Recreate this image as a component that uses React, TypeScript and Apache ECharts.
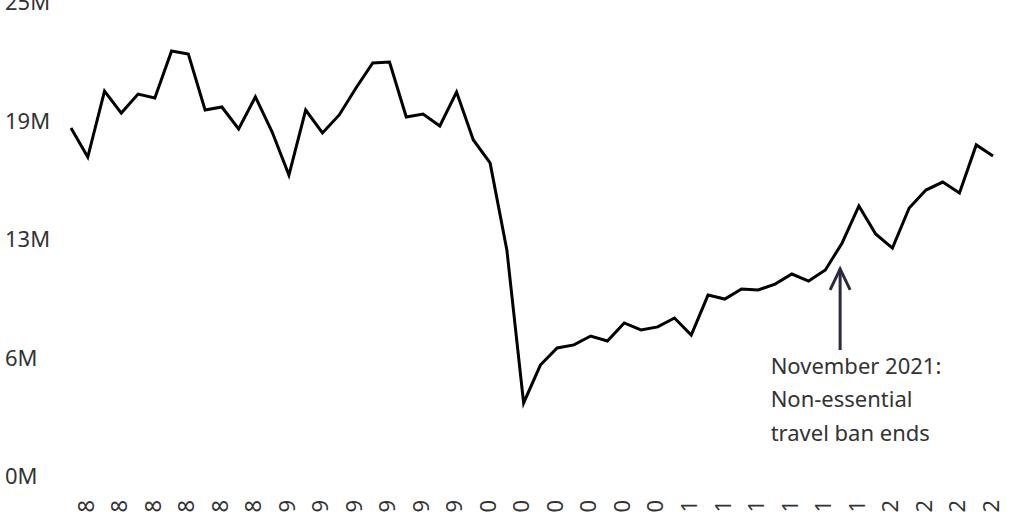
import React, { useEffect, useRef } from 'react';
import * as echarts from 'echarts';

// Monthly crossings, Jan 2018 - Aug 2022 (millions)
const YEARS = [2018, 2019, 2020, 2021, 2022];
const MONTHS = ['Jan', 'Feb', 'Mar', 'Apr', 'May', 'Jun', 'Jul', 'Aug', 'Sep', 'Oct', 'Nov', 'Dec'];

const crossings = [
  18.3, 16.77, 20.25, 19.09, 20.09, 19.88, 22.36, 22.2, 19.25, 19.41, 18.25, 19.94,
  18.09, 15.82, 19.25, 18.04, 18.99, 20.41, 21.73, 21.78, 18.88, 19.04, 18.41, 20.2,
  17.67, 16.46, 11.87, 3.8, 5.8, 6.7, 6.86, 7.33, 7.07, 8.02, 7.65, 7.81,
  8.28, 7.38, 9.49, 9.28, 9.81, 9.76, 10.07, 10.6, 10.23, 10.81, 12.24, 14.19,
  12.71, 11.97, 14.08, 15.03, 15.45, 14.87, 17.41, 16.82,
];

const categories = YEARS.flatMap((y) => MONTHS.map((m) => `${m} ${y}`)).slice(0, crossings.length);

const yTickLabels = ['0M', '6M', '13M', '19M', '25M'];
const Y_MAX = 25;
const Y_STEP = 6.25;

// annotation
const noteMonth = 'Nov 2021';
const noteLines = ['November 2021:', 'Non-essential', 'travel ban ends'];
const arrowTop = 10.92;
const arrowBottom = 6.59;

const FONT = '"Noto Sans", "DejaVu Sans", sans-serif';
const TEXT_COLOR = '#333333';
const ARROW_COLOR = '#2b2941';

const App: React.FC = () => {
  const chartRef = useRef<HTMLDivElement>(null);

  useEffect(() => {
    if (!chartRef.current) return;
    const chart = echarts.init(chartRef.current, null, { renderer: 'svg' });

    chart.setOption({
      animation: false,
      backgroundColor: '#fff',
      grid: { left: 71, right: 31, top: 1, bottom: 37, containLabel: false, outerBoundsMode: 'none' },
      xAxis: {
        type: 'category',
        data: categories,
        boundaryGap: false,
        axisLine: { show: false },
        axisTick: { show: false },
        splitLine: { show: false },
        axisLabel: {
          interval: 1,
          rotate: 90,
          margin: 25,
          verticalAlign: 'top',
          lineHeight: 27,
          fontSize: 22,
          fontFamily: FONT,
          color: TEXT_COLOR,
        },
      },
      yAxis: {
        type: 'value',
        min: 0,
        max: Y_MAX,
        interval: Y_STEP,
        axisLine: { show: false },
        axisTick: { show: false },
        splitLine: { show: false },
        axisLabel: {
          align: 'left',
          margin: 66,
          fontSize: 22,
          fontFamily: FONT,
          color: TEXT_COLOR,
          formatter: (v: number) => yTickLabels[Math.round(v / Y_STEP)],
        },
      },
      series: [
        {
          type: 'line',
          data: crossings,
          symbol: 'none',
          silent: true,
          lineStyle: { color: '#000', width: 3, join: 'miter' },
        },
      ],
    });

    // place the annotation against the data point it refers to
    const idx = categories.indexOf(noteMonth);
    const [px, tipY] = chart.convertToPixel({ seriesIndex: 0 }, [idx, arrowTop]);
    const [, baseY] = chart.convertToPixel({ seriesIndex: 0 }, [idx, arrowBottom]);
    const ax = px - 2;

    chart.setOption({
      graphic: [
        {
          type: 'line',
          shape: { x1: ax, y1: tipY + 1, x2: ax, y2: baseY },
          style: { stroke: ARROW_COLOR, lineWidth: 3 },
          silent: true,
        },
        {
          type: 'polyline',
          shape: { points: [[ax - 10, tipY + 22], [ax, tipY + 1], [ax + 10, tipY + 22]] },
          style: { stroke: ARROW_COLOR, lineWidth: 3, fill: null, lineJoin: 'miter' },
          silent: true,
        },
        {
          type: 'text',
          x: ax - 69.5,
          y: baseY - 2,
          silent: true,
          style: {
            text: noteLines.join('\n'),
            fontSize: 22,
            fontFamily: FONT,
            fill: TEXT_COLOR,
            lineHeight: 33.5,
            align: 'left',
            verticalAlign: 'top',
          },
        },
      ],
    });

    return () => {
      chart.dispose();
    };
  }, []);

  return (
    <div
      ref={chartRef}
      style={{ position: 'fixed', left: 0, top: 0, width: '1024px', height: '512px', background: '#fff' }}
    />
  );
};

export default App;
